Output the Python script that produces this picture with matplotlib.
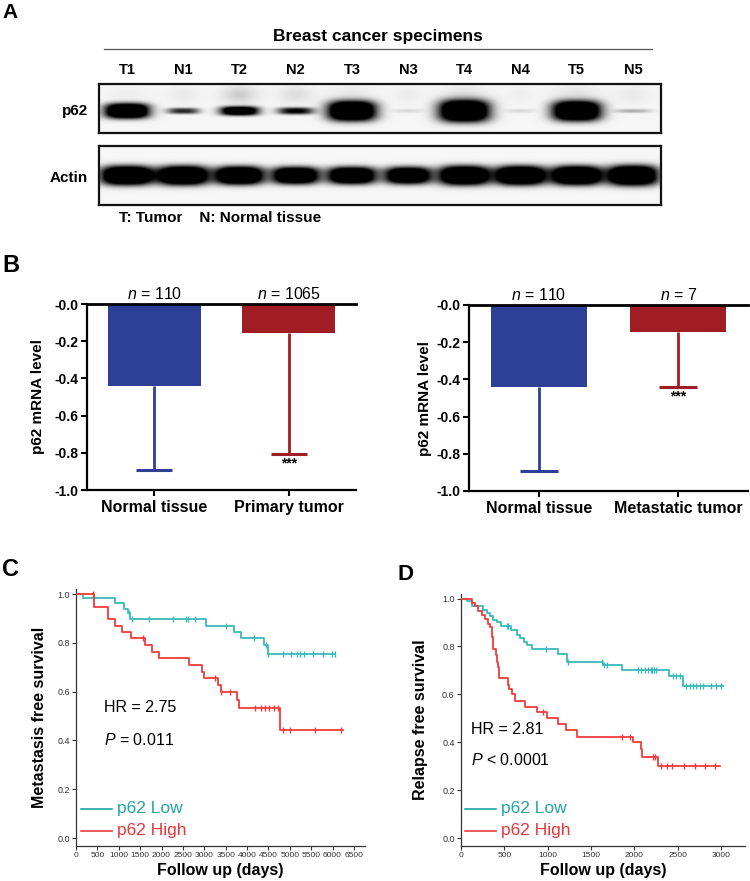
import numpy as np
import matplotlib
matplotlib.use("Agg")
import matplotlib.pyplot as plt
from matplotlib import font_manager

plt.rcParams['font.family'] = ['Liberation Sans', 'DejaVu Sans']
plt.rcParams['mathtext.fontset'] = 'custom'
plt.rcParams['mathtext.rm'] = 'Liberation Sans'
plt.rcParams['mathtext.it'] = 'Liberation Sans:italic'
plt.rcParams['mathtext.bf'] = 'Liberation Sans:bold'

_names = {f.name for f in font_manager.fontManager.ttflist}
NARROW = 'Liberation Sans Narrow' in _names
A_FAMILY = ['Liberation Sans Narrow', 'Liberation Sans'] if NARROW else ['Liberation Sans']
A_SCALE = 1.15 if NARROW else 1.0

# ---------------- data ----------------
lanes = ["T1", "N1", "T2", "N2", "T3", "N3", "T4", "N4", "T5", "N5"]
p62_intensity = [1.0, 0.45, 0.85, 0.55, 1.0, 0.06, 1.0, 0.06, 1.0, 0.15]
p62_band_w = [44, 32, 38, 36, 48, 30, 50, 30, 48, 36]
p62_band_h = [15, 6, 9, 7, 20, 4, 22, 4, 20, 4]
p62_smear = [0.03, 0.05, 0.16, 0.10, 0.06, 0.04, 0.08, 0.03, 0.08, 0.05]
actin_intensity = [1.0, 1.0, 1.0, 0.95, 0.95, 0.9, 1.0, 1.0, 1.0, 1.0]
actin_band_w = [52, 50, 48, 46, 48, 46, 50, 50, 50, 50]
actin_band_h = [19, 19, 18, 17, 17, 17, 19, 19, 19, 20]

groups_left = ["Normal tissue", "Primary tumor"]
mean_left = [-0.44, -0.155]
sd_left = [0.45, 0.65]
n_left = [110, 1065]

groups_right = ["Normal tissue", "Metastatic tumor"]
mean_right = [-0.44, -0.145]
sd_right = [0.45, 0.295]
n_right = [110, 7]

bar_colors = ["#2e3f96", "#a01d23"]

# Panel C (metastasis free survival)
c_low_t = [170, 910, 1130, 1210, 1265, 3040, 3700, 3850, 4400, 4480]
c_low_s = [0.983, 0.962, 0.940, 0.921, 0.896, 0.870, 0.846, 0.818, 0.791, 0.754]
c_low_cens = [1240, 1300, 1700, 2280, 2580, 2620, 2780, 3500, 4160, 4440, 4500,
              4850, 5040, 5160, 5240, 5330, 5550, 5780, 5980, 6060]
c_low_end = 6060
c_high_t = [430, 760, 910, 1070, 1280, 1610, 1780, 1940, 2640, 2950, 2990, 3330,
            3390, 3760, 3810, 4780]
c_high_s = [0.948, 0.896, 0.870, 0.846, 0.818, 0.791, 0.764, 0.736, 0.709, 0.682,
            0.657, 0.627, 0.597, 0.566, 0.531, 0.444]
c_high_cens = [390, 1570, 3250, 3390, 3600, 4185, 4320, 4420, 4520, 4630, 4730,
               4850, 5000, 5590, 6200]
c_high_end = 6250

# Panel D (relapse free survival)
d_low_t = [65, 123, 257, 296, 334, 372, 411, 461, 580, 641, 680, 726, 756, 814,
           1114, 1217, 1640, 1859, 2396, 2565]
d_low_s = [0.99, 0.969, 0.952, 0.938, 0.925, 0.911, 0.90, 0.887, 0.868, 0.848,
           0.834, 0.820, 0.806, 0.790, 0.768, 0.736, 0.722, 0.701, 0.675, 0.636]
d_low_cens = [526, 545, 975, 1236, 1628, 1651, 1678, 2043, 2081, 2120, 2158, 2189,
              2204, 2220, 2254, 2446, 2484, 2523, 2600, 2638, 2676, 2715, 2753,
              2792, 2888, 2945, 3003]
d_low_end = 3022
d_high_t = [123, 161, 200, 238, 276, 315, 334, 353, 361, 372, 399, 418, 430, 442,
            545, 557, 591, 622, 737, 879, 987, 1121, 1210, 1333, 1978, 2070, 2093,
            2266]
d_high_s = [0.983, 0.97, 0.949, 0.93, 0.913, 0.895, 0.880, 0.855, 0.838, 0.788,
            0.764, 0.736, 0.715, 0.670, 0.640, 0.621, 0.601, 0.573, 0.549, 0.528,
            0.500, 0.476, 0.452, 0.424, 0.400, 0.371, 0.341, 0.303]
d_high_cens = [948, 1851, 1947, 2216, 2235, 2312, 2377, 2435, 2569, 2696, 2811, 2926]
d_high_end = 2984

low_color = "#3bb9b9"
high_color = "#f03c3c"
low_text = "#1fa6a6"
high_text = "#f03535"

# ---------------- figure ----------------
W, H = 750, 881
fig = plt.figure(figsize=(W / 100, H / 100), dpi=100)


def ax_px(x0, y0, x1, y1):
    return fig.add_axes([x0 / W, 1 - y1 / H, (x1 - x0) / W, (y1 - y0) / H])


# ---------- Panel A ----------
axA = ax_px(0, 0, W, 230)
axA.set_xlim(0, W)
axA.set_ylim(230, 0)
axA.axis("off")
axA.text(2, 3, "A", fontsize=15, fontweight="bold", va="top", ha="left")
axA.text(378, 37, "Breast cancer specimens", fontsize=12.5 * A_SCALE,
         fontweight="bold", family=A_FAMILY, ha="center", va="center")
axA.plot([104, 652], [49, 49], color="#555555", lw=0.9)
axA.text(88, 111, "p62", fontsize=11 * A_SCALE, fontweight="bold", family=A_FAMILY,
         ha="right", va="center")
axA.text(88, 178, "Actin", fontsize=11 * A_SCALE, fontweight="bold", family=A_FAMILY,
         ha="right", va="center")
axA.text(119, 218, "T: Tumor    N: Normal tissue", fontsize=11 * A_SCALE,
         fontweight="bold", family=A_FAMILY, ha="left", va="center")


def blot(box, intens, bw, bh, yc_frac, smear=None):
    x0, y0, x1, y1 = box
    ax = ax_px(x0, y0, x1, y1)
    wpx, hpx = x1 - x0, y1 - y0
    sc = 3
    xs = (np.arange(wpx * sc) + 0.5) / sc
    ys = (np.arange(hpx * sc) + 0.5) / sc
    X, Y = np.meshgrid(xs, ys)
    img = np.full(X.shape, 0.035)
    n = len(intens)
    pitch = wpx / n
    for i in range(n):
        xc = (i + 0.5) * pitch
        yc = yc_frac * hpx
        d = np.exp(-(np.abs((X - xc) / (bw[i] / 2)) ** 3 +
                     np.abs((Y - yc) / (bh[i] / 2)) ** 3))
        img += 1.8 * intens[i] * d
        if smear is not None:
            s = np.exp(-(((X - xc) / (bw[i] / 2.2)) ** 2 +
                         ((Y - yc + 0.33 * hpx) / (0.18 * hpx)) ** 2))
            img += smear[i] * s
    img = np.clip(img, 0, 1)
    ax.imshow(img, cmap="gray_r", vmin=0, vmax=1, extent=[0, wpx, hpx, 0],
              aspect="auto", interpolation="bilinear")
    ax.set_xlim(0, wpx)
    ax.set_ylim(hpx, 0)
    ax.set_xticks([])
    ax.set_yticks([])
    for sp in ax.spines.values():
        sp.set_linewidth(1.6)
        sp.set_color("#111111")
    return ax, pitch


axP, pitch = blot((99, 84, 661, 133), p62_intensity, p62_band_w, p62_band_h, 0.55,
                  smear=p62_smear)
axAc, _ = blot((99, 146, 661, 205), actin_intensity, actin_band_w, actin_band_h, 0.5)
for i, lab in enumerate(lanes):
    axA.text(99 + (i + 0.5) * pitch, 70, lab, fontsize=10.5 * A_SCALE,
             fontweight="bold", family=A_FAMILY, ha="center", va="center")


# ---------- Panel B ----------
def bar_panel(box, groups, means, sds, ns, ylabel_x):
    x0, y0, x1, y1 = box
    ax = ax_px(x0, y0, x1, y1)
    pos = np.arange(len(groups))
    ax.bar(pos, means, width=0.69, color=bar_colors, zorder=2)
    cap_half = 0.135
    for p, m, s, c in zip(pos, means, sds, bar_colors):
        ax.plot([p, p], [m, m - s], color=c, lw=2, zorder=1, solid_capstyle="butt")
        ax.plot([p - cap_half, p + cap_half], [m - s, m - s], color=c, lw=2.2,
                zorder=1, solid_capstyle="butt")
    ax.set_xlim(-0.5, 1.5)
    ax.set_ylim(-1.0, 0.0)
    yt = [0.0, -0.2, -0.4, -0.6, -0.8, -1.0]
    ax.set_yticks(yt)
    ax.set_yticklabels(["-0.0", "-0.2", "-0.4", "-0.6", "-0.8", "-1.0"],
                       fontsize=10, fontweight="bold")
    ax.set_xticks(pos)
    ax.set_xticklabels(groups, fontsize=11.5, fontweight="bold")
    ax.tick_params(axis="both", width=1.5, length=4, color="black")
    ax.tick_params(axis="x", pad=3)
    ax.tick_params(axis="y", pad=2)
    ax.spines["right"].set_visible(False)
    for k in ["left", "bottom"]:
        ax.spines[k].set_linewidth(1.6)
    ax.spines["top"].set_linewidth(2.0)
    ax.set_ylabel("p62 mRNA level", fontsize=11, fontweight="bold")
    ax.yaxis.set_label_coords((ylabel_x - x0) / (x1 - x0), 0.5)
    for p, nn in zip(pos, ns):
        ax.text(p, 0.012, r"$\it{n}$ = " + f"{nn}", fontsize=11.5, ha="center",
                va="bottom")
    ax.text(pos[1], means[1] - sds[1] - 0.015, "***", fontsize=10, ha="center",
            va="top", fontweight="bold")
    return ax


bar_panel((87, 304, 356, 490), groups_left, mean_left, sd_left, n_left, 45)
bar_panel((469, 305, 748, 491), groups_right, mean_right, sd_right, n_right, 432)
fig.text(2 / W, 1 - 254 / H, "B", fontsize=17, fontweight="bold", va="top")


# ---------- Panels C & D ----------
def step_value(times, surv, t):
    idx = np.searchsorted(times, t, side="right")
    return 1.0 if idx == 0 else surv[idx - 1]


def km(ax, times, surv, cens, end, color):
    tt = [0] + list(times) + [end]
    ss = [1.0] + list(surv) + [surv[-1]]
    ax.step(tt, ss, where="post", color=color, lw=1.3, zorder=3)
    cy = [step_value(times, surv, c) for c in cens]
    ax.plot(cens, cy, linestyle="none", marker="|", markersize=5, mew=1.0,
            color=color, zorder=3)


def km_panel(box, ymap, xmax, xticks, ylabel, low, high, hr, ptxt, txt_x, ylab_x,
             leg_x):
    x0, y0, x1, y1 = box
    p0, p1 = ymap
    per = (p0 - p1)
    ylo = -(y1 - p0) / per
    yhi = 1.0 + (p1 - y0) / per
    ax = ax_px(x0, y0, x1, y1)
    km(ax, *low, low_color)
    km(ax, *high, high_color)
    ax.set_xlim(0, xmax)
    ax.set_ylim(ylo, yhi)
    ax.set_yticks([0.0, 0.2, 0.4, 0.6, 0.8, 1.0])
    ax.set_yticklabels(["0.0", "0.2", "0.4", "0.6", "0.8", "1.0"], fontsize=6.5,
                       color="#333333")
    ax.set_xticks(xticks)
    ax.set_xticklabels([str(v) for v in xticks], fontsize=6, color="#333333")
    ax.tick_params(length=3, width=0.8, color="#333333", pad=1.5)
    for k in ["top", "right"]:
        ax.spines[k].set_visible(False)
    for k in ["left", "bottom"]:
        ax.spines[k].set_linewidth(0.9)
        ax.spines[k].set_color("#333333")
    ax.set_ylabel(ylabel, fontsize=11.5, fontweight="bold")
    ax.yaxis.set_label_coords((ylab_x - x0) / (x1 - x0), 0.5)
    ax.set_xlabel("Follow up (days)", fontsize=11.5, fontweight="bold", labelpad=3)

    def fy(py):
        return (p0 - py) / per

    def fx(px):
        return (px - x0) / (x1 - x0) * xmax
    ax.text(fx(txt_x), fy(hr[1]), hr[0], fontsize=11.5, ha="left", va="center")
    ax.text(fx(txt_x), fy(ptxt[1]), ptxt[0], fontsize=11.5, ha="left", va="center")
    lx0, lx1 = leg_x
    ax.plot([fx(lx0), fx(lx1)], [fy(809), fy(809)], color=low_text, lw=1.2)
    ax.plot([fx(lx0), fx(lx1)], [fy(831), fy(831)], color=high_color, lw=1.2)
    ax.text(fx(lx1 + 5), fy(809), "p62 Low", color=low_text, fontsize=12.5,
            ha="left", va="center")
    ax.text(fx(lx1 + 5), fy(831), "p62 High", color=high_text, fontsize=12.5,
            ha="left", va="center")
    return ax


km_panel((76, 589, 365, 846), (838, 594), 6760, list(range(0, 6501, 500)),
         "Metastasis free survival",
         (c_low_t, c_low_s, c_low_cens, c_low_end),
         (c_high_t, c_high_s, c_high_cens, c_high_end),
         ("HR = 2.75", 708), (r"$\it{P}$ = 0.011", 740), 104, 47, (81, 112))
km_panel((461, 594, 745, 846), (838.3, 598.5), 3275, list(range(0, 3001, 500)),
         "Relapse free survival",
         (d_low_t, d_low_s, d_low_cens, d_low_end),
         (d_high_t, d_high_s, d_high_cens, d_high_end),
         ("HR = 2.81", 729), (r"$\it{P}$ < 0.0001", 760), 471, 428, (465, 496))

fig.text(2 / W, 1 - 558 / H, "C", fontsize=17, fontweight="bold", va="top")
fig.text(398 / W, 1 - 564 / H, "D", fontsize=16, fontweight="bold", va="top")

fig.savefig("out.png", dpi=100)
